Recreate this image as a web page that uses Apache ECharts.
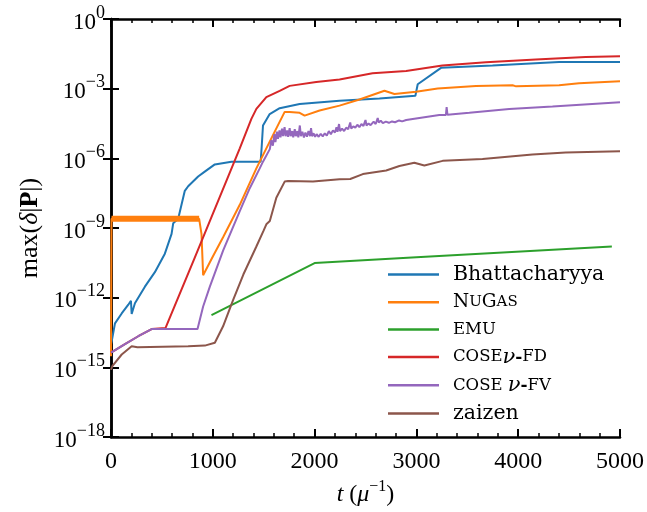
<!DOCTYPE html>
<html>
<head>
<meta charset="utf-8">
<script src="https://cdn.jsdelivr.net/npm/echarts@6/dist/echarts.min.js"></script>
<style>
  html, body { margin: 0; padding: 0; background: #fff; }
  #main { width: 647px; height: 512px; }
</style>
</head>
<body>
<div id="main"></div>
<script>
// 每条曲线: [t, max(δ|P|)]，读自原图
var bhattData = [
    [0, 1e-14], [6, 1.26e-14], [39, 7.9e-14], [105, 2.1e-13], [170, 5e-13], [196, 7.4e-13],
    [203, 2e-13], [235, 5.8e-13], [333, 3e-12], [431, 1.26e-11], [529, 7.9e-11], [595, 5.6e-10],
    [611, 1.6e-9], [660, 2.5e-9], [725, 4e-8], [758, 6.3e-8], [856, 1.66e-7], [921, 2.7e-7],
    [1020, 5.5e-7], [1183, 7.2e-7], [1470, 7.2e-7], [1480, 3e-6], [1493, 2.6e-5], [1559, 8.1e-5],
    [1657, 1.45e-4], [1853, 2.2e-4], [2245, 3.0e-4], [2637, 3.8e-4], [2990, 5e-4],
    [3013, 1.55e-3], [3242, 7.9e-3], [3748, 1e-2], [4402, 1.4e-2], [5000, 1.4e-2]
];
var nugasPlateau = [[5, 2.5e-9], [866, 2.5e-9]];
var nugasData = [
    [0, 3e-15], [5, 2.5e-9], [866, 2.5e-9], [889, 5.5e-10], [905, 9.3e-12], [1003, 6.3e-11],
    [1101, 4e-10], [1265, 1e-8], [1428, 3.7e-7], [1591, 1e-5], [1706, 1e-4], [1755, 1e-4],
    [1853, 9.1e-5], [1902, 6.9e-5], [2049, 1.15e-4], [2245, 1.86e-4], [2441, 3.4e-4],
    [2686, 8.1e-4], [2784, 5.9e-4], [2997, 7.4e-4], [3209, 1.02e-3], [3585, 1.32e-3],
    [3944, 1.41e-3], [3980, 1.26e-3], [4402, 1.41e-3], [4598, 1.7e-3], [5000, 2.1e-3]
];
var emuData = [[987, 1.8e-13], [2000, 3.1e-11], [3000, 5.6e-11], [4920, 1.6e-10]];
var fdData = [
    [0, 4.3e-15], [137, 1e-14], [268, 2.2e-14], [399, 4.5e-14], [536, 5e-14], [824, 5.5e-11],
    [1265, 2.7e-6], [1379, 5e-5], [1428, 1.35e-4], [1526, 4.3e-4], [1657, 8.1e-4], [1755, 1.32e-3],
    [2016, 1.95e-3], [2245, 2.5e-3], [2569, 4.6e-3], [2899, 5.8e-3], [3255, 1e-2], [3683, 1.38e-2],
    [4173, 1.82e-2], [4663, 2.34e-2], [5000, 2.5e-2]
];
var fvData = [
    [0, 4.3e-15], [137, 1e-14], [268, 2.2e-14], [399, 4.5e-14], [850, 4.5e-14], [905, 4.2e-13],
    [971, 3e-12], [1101, 1.07e-10], [1265, 5.4e-9], [1363, 5.2e-8], [1461, 3.7e-7], [1493, 7.2e-7],
    [1560, 2.5e-6], [1575, 6e-6], [1590, 3.5e-6], [1605, 1.1e-5], [1615, 5e-6], [1630, 1.4e-5],
    [1640, 7e-6], [1655, 1.6e-5], [1665, 8e-6], [1680, 1.9e-5], [1690, 9e-6], [1705, 2.2e-5],
    [1715, 9e-6], [1730, 1.6e-5], [1740, 8.5e-6], [1755, 2e-5], [1765, 9e-6], [1780, 1.5e-5],
    [1790, 8e-6], [1805, 1.8e-5], [1815, 9e-6], [1830, 1.5e-5], [1840, 8e-6], [1855, 2.6e-5],
    [1865, 9e-6], [1880, 1.4e-5], [1895, 8e-6], [1910, 1.3e-5], [1925, 8.5e-6], [1940, 1.5e-5],
    [1955, 9e-6], [1965, 2e-5], [1975, 9e-6], [1990, 1.2e-5], [2005, 8.5e-6], [2020, 1.1e-5],
    [2040, 8.5e-6], [2060, 1.15e-5], [2080, 8.8e-6], [2100, 1.2e-5], [2120, 9.5e-6], [2140, 1.5e-5],
    [2160, 1.1e-5], [2180, 1.6e-5], [2200, 1.3e-5], [2215, 2.2e-5], [2225, 1.4e-5], [2240, 3e-5],
    [2250, 1.5e-5], [2270, 1.9e-5], [2290, 1.5e-5], [2310, 2.1e-5], [2330, 1.8e-5], [2350, 3.5e-5],
    [2360, 1.9e-5], [2380, 2.4e-5], [2400, 2.1e-5], [2420, 2.8e-5], [2440, 2.2e-5], [2460, 3e-5],
    [2480, 2.5e-5], [2500, 4.5e-5], [2510, 2.6e-5], [2530, 3.2e-5], [2550, 2.7e-5], [2580, 3.8e-5],
    [2600, 3e-5], [2620, 5.5e-5], [2630, 3.5e-5], [2650, 4.2e-5], [2670, 3.3e-5], [2700, 3.8e-5],
    [2730, 3.4e-5], [2760, 3.9e-5], [2790, 3.6e-5], [2830, 4.3e-5], [2860, 3.9e-5], [2900, 4.5e-5],
    [2964, 5e-5], [3225, 7.4e-5], [3290, 7.4e-5], [3297, 1.6e-4], [3305, 7.6e-5], [3520, 9.1e-5],
    [3912, 1.35e-4], [4337, 1.7e-4], [5000, 2.6e-4]
];
var zaizenData = [
    [0, 7.9e-16], [13, 1.15e-15], [105, 3.6e-15], [203, 8.1e-15], [260, 7.4e-15], [758, 8.1e-15],
    [922, 8.7e-15], [1020, 1.15e-14], [1101, 5.9e-14], [1199, 7.9e-13], [1300, 1e-11], [1428, 1.6e-10],
    [1500, 7.9e-10], [1526, 1.45e-9], [1560, 2e-9], [1624, 2e-8], [1706, 1e-7], [1740, 1.07e-7],
    [1984, 1e-7], [2245, 1.26e-7], [2350, 1.3e-7], [2474, 2.1e-7], [2703, 3e-7], [2833, 4.7e-7],
    [2980, 6.5e-7], [3078, 4.9e-7], [3258, 7.8e-7], [3650, 9.3e-7], [4140, 1.48e-6], [4467, 1.8e-6],
    [5000, 2.0e-6]
];
var seriesNames = ['Bhattacharyya', 'NuGas', 'EMU', 'COSEν-FD', 'COSEν-FV', 'zaizen'];
var seriesColors = ['#1f77b4', '#ff7f0e', '#2ca02c', '#d62728', '#9467bd', '#8c564b'];
var xTicks = [0, 1000, 2000, 3000, 4000, 5000];

// 图例文字 (小型大写 + 斜体 ν)
var legendLabels = {
    'Bhattacharyya': '{r|Bhattacharyya}',
    'NuGas': '{n|N}{ns|U}{n|G}{ns|AS}',
    'EMU': '{sc|EMU}',
    'COSEν-FD': '{sc|COSE}{nu|ν}{d|-}{sc|FD}',
    'COSEν-FV': '{sc|COSE }{nu|ν}{d|-}{sc|FV}',
    'zaizen': '{r|zaizen}'
};

var serif = 'Liberation Serif';
var lserif = 'DejaVu Serif';

function lineSeries(name, data, idx, width) {
    return {
        name: name,
        type: 'line',
        data: data,
        symbol: 'none',
        smooth: false,
        lineStyle: {color: seriesColors[idx], width: width},
        itemStyle: {color: seriesColors[idx]},
        z: 2 + idx
    };
}

var frameLine = {show: true, lineStyle: {color: '#000', width: 2.5}};

var option = {
    animation: false,
    backgroundColor: '#fff',
    grid: {left: 111, right: 26, top: 19, bottom: 71, containLabel: false},
    legend: {
        data: seriesNames,
        orient: 'vertical',
        left: 383,
        top: 259,
        icon: 'rect',
        itemWidth: 51,
        itemHeight: 2.5,
        itemGap: 7.2,
        formatter: function (name) { return legendLabels[name]; },
        textStyle: {
            padding: [0, 0, 0, 9],
            lineHeight: 20,
            rich: {
                r: {fontFamily: lserif, fontSize: 20.5, color: '#000', lineHeight: 20},
                n: {fontFamily: lserif, fontSize: 18.5, color: '#000', lineHeight: 20},
                ns: {fontFamily: lserif, fontSize: 15, color: '#000', lineHeight: 20},
                sc: {fontFamily: lserif, fontSize: 16.5, color: '#000', lineHeight: 20},
                d: {fontFamily: lserif, fontSize: 17, fontWeight: 'bold', color: '#000', lineHeight: 20},
                nu: {fontFamily: lserif, fontSize: 21, fontStyle: 'italic', color: '#000', lineHeight: 20}
            }
        }
    },
    xAxis: [{
        type: 'value',
        min: 0,
        max: 5000,
        interval: 1000,
        position: 'bottom',
        name: '{it|t}{r| (}{it|μ}{s|−1}{r|)}',
        nameLocation: 'middle',
        nameGap: 38,
        nameTextStyle: {
            rich: {
                it: {fontFamily: serif, fontSize: 24, fontStyle: 'italic', color: '#000', verticalAlign: 'bottom', lineHeight: 28},
                r: {fontFamily: serif, fontSize: 24, color: '#000', verticalAlign: 'bottom', lineHeight: 28},
                s: {fontFamily: serif, fontSize: 16, color: '#000', verticalAlign: 'top', lineHeight: 28}
            }
        },
        axisLine: frameLine,
        axisTick: {show: true, inside: true, length: 8, lineStyle: {width: 2, color: '#000'}},
        minorTick: {show: true, splitNumber: 5, length: 4, lineStyle: {width: 1.5, color: '#000'}},
        splitLine: {show: false},
        axisLabel: {
            color: '#000', fontFamily: serif, fontSize: 24, margin: 13,
            formatter: function (v) { return xTicks.indexOf(v) >= 0 ? String(v) : ''; }
        }
    }, {
        type: 'value',
        min: 0,
        max: 5000,
        interval: 1000,
        position: 'top',
        axisLine: frameLine,
        axisTick: {show: true, inside: true, length: 8, lineStyle: {width: 2, color: '#000'}},
        minorTick: {show: true, splitNumber: 5, length: 4, lineStyle: {width: 1.5, color: '#000'}},
        splitLine: {show: false},
        axisLabel: {show: false}
    }],
    yAxis: [{
        type: 'log',
        logBase: 10,
        min: 1e-18,
        max: 1,
        interval: 3,
        position: 'left',
        name: '{r|max(}{it|δ}{r||}{b|P}{r||)}',
        nameLocation: 'middle',
        nameGap: 55,
        nameRotate: 90,
        nameTextStyle: {
            rich: {
                r: {fontFamily: serif, fontSize: 26, color: '#000'},
                it: {fontFamily: serif, fontSize: 26, fontStyle: 'italic', color: '#000'},
                b: {fontFamily: serif, fontSize: 26, fontWeight: 'bold', color: '#000'}
            }
        },
        axisLine: frameLine,
        axisTick: {show: true, inside: true, length: 8, lineStyle: {width: 2, color: '#000'}},
        minorTick: {show: false},
        splitLine: {show: false},
        axisLabel: {
            margin: 6,
            formatter: function (v) {
                var e = Math.round(Math.log(v) / Math.LN10);
                return '{b|10}{s|' + (e < 0 ? '−' + (-e) : String(e)) + '}';
            },
            rich: {
                b: {fontFamily: serif, fontSize: 23, color: '#000', verticalAlign: 'bottom', lineHeight: 30},
                s: {fontFamily: serif, fontSize: 18, color: '#000', verticalAlign: 'top', lineHeight: 30}
            }
        }
    }, {
        type: 'log',
        logBase: 10,
        min: 1e-18,
        max: 1,
        interval: 3,
        position: 'right',
        axisLine: frameLine,
        axisTick: {show: true, inside: true, length: 8, lineStyle: {width: 2, color: '#000'}},
        splitLine: {show: false},
        axisLabel: {show: false}
    }],
    series: [
        lineSeries('Bhattacharyya', bhattData, 0, 2),
        lineSeries('NuGas', nugasData, 1, 2),
        lineSeries('NuGas', nugasPlateau, 1, 6),
        lineSeries('EMU', emuData, 2, 2),
        lineSeries('COSEν-FD', fdData, 3, 2),
        lineSeries('COSEν-FV', fvData, 4, 2),
        lineSeries('zaizen', zaizenData, 5, 2)
    ]
};

var myChart = echarts.init(document.getElementById('main'), null, {renderer: 'canvas'});
myChart.setOption(option);
</script>
</body>
</html>
